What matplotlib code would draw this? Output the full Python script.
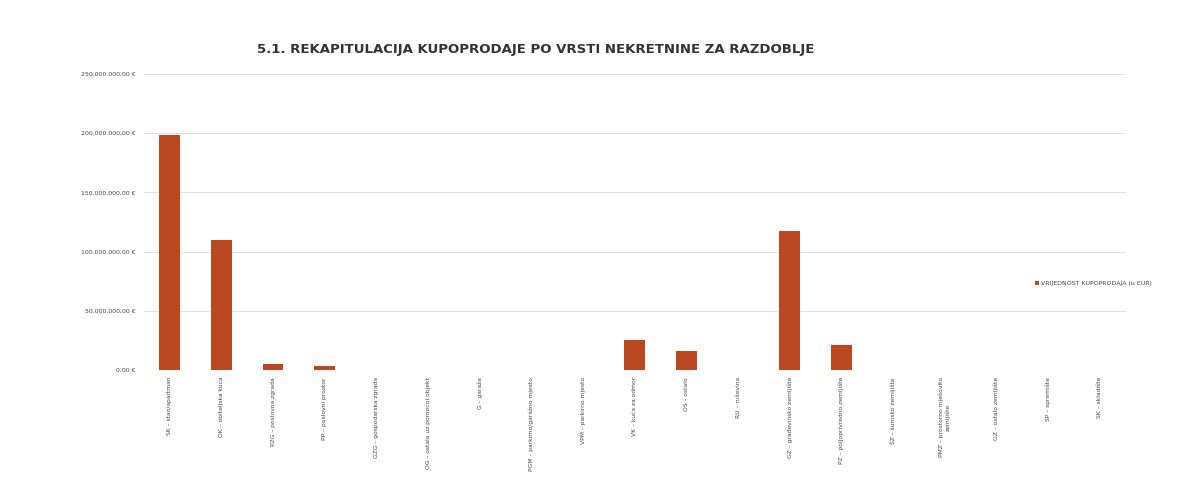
import matplotlib
matplotlib.use("Agg")
import matplotlib.pyplot as plt
from matplotlib.ticker import FuncFormatter

categories = [
    "SK – stan/apartman",
    "OK – obiteljska kuća",
    "PZG – poslovna zgrada",
    "PP – poslovni prostor",
    "GZG – gospodarska zgrada",
    "OG – ostalo uz pomoćni objekt",
    "G – garaža",
    "PGM – parkirno/garažno mjesto",
    "VPM – parkirno mjesto",
    "VK – kuća za odmor",
    "OS – ostalo",
    "RU – ruševina",
    "GZ – građevinsko zemljište",
    "PZ – poljoprivredno zemljište",
    "ŠZ – šumsko zemljište",
    "PMZ – prostorno mješovito\nzemljište",
    "OZ – ostalo zemljište",
    "SP – spremište",
    "SK – skladište",
]
values = [198e6, 110e6, 5e6, 3.5e6, 0, 0, 0, 0, 0, 25e6, 16e6, 0,
          117e6, 21e6, 0, 0, 0, 0, 0]
series_name = "VRIJEDNOST KUPOPRODAJA (u EUR)"
title = "5.1. REKAPITULACIJA KUPOPRODAJE PO VRSTI NEKRETNINE ZA RAZDOBLJE"

bar_color = "#B9481F"


def euro(v, pos):
    s = f"{v:,.2f}".replace(",", "X").replace(".", ",").replace("X", ".")
    return s + " €"


fig = plt.figure(figsize=(12, 4.99), dpi=100)
ax = fig.add_axes([0.12, 0.2585, 0.818, 0.5935])

x = range(len(categories))
ax.bar(x, values, width=0.4, color=bar_color, label=series_name, zorder=3)

ax.set_ylim(0, 250e6)
ax.set_xlim(-0.5, len(categories) - 0.5)
ax.set_yticks([0, 50e6, 100e6, 150e6, 200e6, 250e6])
ax.yaxis.set_major_formatter(FuncFormatter(euro))
ax.set_xticks(list(x))
ax.set_xticklabels(categories, rotation=90, fontsize=4.3, color="#444444")
ax.tick_params(axis="y", labelsize=4.5, labelcolor="#444444", length=0, pad=6)
ax.tick_params(axis="x", length=0, pad=5)
ax.grid(axis="y", color="#dcdcdc", linewidth=0.6, zorder=0)
for s in ax.spines.values():
    s.set_visible(False)

fig.text(0.446, 0.9, title, ha="center", va="center", fontsize=9.5,
         fontweight="bold", color="#333333", family="Liberation Sans Narrow")

fig.legend(loc="center left", bbox_to_anchor=(0.858, 0.432), frameon=False,
           fontsize=4.5, handlelength=0.6, handleheight=0.6, handletextpad=0.4,
           labelcolor="#444444")

fig.savefig("out.png", dpi=100)
